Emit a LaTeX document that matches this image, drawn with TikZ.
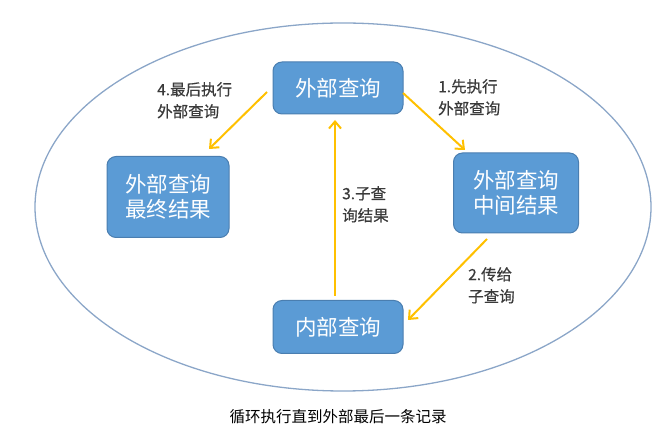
\documentclass[tikz,border=0pt]{standalone}
\usepackage{fontspec}
\setmainfont{Noto Sans CJK SC}
\newfontfamily\lblfont[FakeBold=0.6]{Noto Sans CJK SC}
\usetikzlibrary{arrows.meta}
\definecolor{boxfill}{HTML}{5B9BD5}
\definecolor{boxedge}{HTML}{4A7EB0}
\definecolor{arrowc}{HTML}{FFC000}
\definecolor{ringc}{HTML}{8BA6C8}
\definecolor{labelc}{HTML}{3A3A3A}
\tikzset{
  qbox/.style={draw=boxedge, line width=1pt, fill=boxfill, rounded corners=9pt,
    text=white, font=\fontsize{21.5}{25}\selectfont, align=center, inner sep=0pt},
  flow/.style={draw=arrowc, line width=2pt, -{Straight Barb[length=7pt,width=12pt,line width=2pt]}},
  lbl/.style={text=labelc, font=\lblfont\fontsize{15.5}{22}\selectfont, align=left, anchor=north west, inner sep=0pt},
}
\begin{document}
\begin{tikzpicture}[x=1pt,y=-1pt]
\useasboundingbox (0,0) rectangle (667,427);
\draw[ringc, line width=1.3pt] (343,207) ellipse [x radius=308, y radius=184];
\node[qbox, minimum width=130pt, minimum height=52pt] (top) at (338,88) {外部查询};
\node[qbox, minimum width=122pt, minimum height=81pt] (left) at (168,197) {外部查询\\最终结果};
\node[qbox, minimum width=125pt, minimum height=80pt] (right) at (516,193) {外部查询\\中间结果};
\node[qbox, minimum width=130pt, minimum height=53pt] (bot) at (338,327) {内部查询};
\coordinate (a1s) at (403,93); \coordinate (a1e) at (465,150);
\coordinate (a4s) at (267,92); \coordinate (a4e) at (209,149);
\coordinate (a3s) at (335,296); \coordinate (a3e) at (335,120);
\coordinate (a2s) at (487,239); \coordinate (a2e) at (408,320);
\draw[flow] (a1s) -- (a1e);
\draw[flow] (a4s) -- (a4e);
\draw[flow] (a3s) -- (a3e);
\draw[flow] (a2s) -- (a2e);
\node[lbl] (l4) at (157,82) {4.最后执行\\外部查询};
\node[lbl] (l1) at (438,79) {1.先执行\\外部查询};
\node[lbl] (l3) at (342,186) {3.子查\\询结果};
\node[lbl] (l2) at (468,267) {2.传给\\子查询};
\node[text=black, font=\fontsize{15.5}{18}\selectfont, inner sep=0pt] (cap) at (338,417) {循环执行直到外部最后一条记录};
\end{tikzpicture}
\end{document}
